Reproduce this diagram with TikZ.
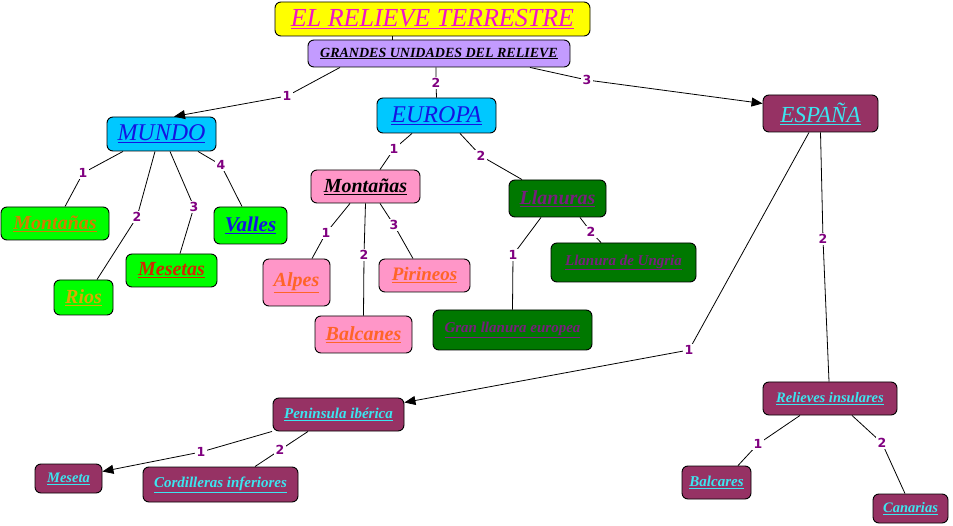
\documentclass[tikz,border=0pt]{standalone}
\usepackage{fontspec}
\setmainfont{Liberation Serif}
\newfontfamily\linkfont{DejaVu Sans}
\usetikzlibrary{arrows.meta}
\definecolor{titleyellow}{RGB}{255,255,0}
\definecolor{titlepink}{RGB}{240,20,200}
\definecolor{lavender}{RGB}{195,155,255}
\definecolor{skycyan}{RGB}{0,200,255}
\definecolor{deepblue}{RGB}{20,20,225}
\definecolor{limegreen}{RGB}{0,255,0}
\definecolor{darkgreen}{RGB}{0,120,0}
\definecolor{maroon}{RGB}{150,50,100}
\definecolor{aqua}{RGB}{60,230,240}
\definecolor{rosepink}{RGB}{255,150,200}
\definecolor{orangetext}{RGB}{255,100,40}
\definecolor{ochre}{RGB}{210,125,0}
\definecolor{goldtext}{RGB}{220,170,0}
\definecolor{redtext}{RGB}{210,40,0}
\definecolor{plumtext}{RGB}{120,30,125}
\definecolor{linkpurple}{RGB}{128,0,128}
\newcommand\csize[1]{\fontsize{#1}{#1}\selectfont\itshape}

\begin{document}
\begin{tikzpicture}[x=1pt,y=-1pt,
  concept/.style={rectangle,rounded corners=6pt,draw=black,line width=0.9pt,
                  inner sep=0pt,align=center},
  link/.style={fill=white,inner sep=1.5pt,text=linkpurple,
               font=\linkfont\bfseries\fontsize{12.5}{13}\selectfont},
  conn/.style={line width=0.8pt},
  arr/.style={conn,-{Triangle[length=11pt,width=9pt]}}]
\useasboundingbox (0,0) rectangle (953,526);

% top
\node[concept,fill=titleyellow,text=titlepink,minimum width=315,minimum height=34,
      font=\csize{26}] (title) at (432.5,19) {\underline{EL RELIEVE TERRESTRE}};
\node[concept,fill=lavender,text=black,minimum width=262,minimum height=27,
      font=\csize{14}\bfseries] (grandes) at (439,53.5) {\underline{GRANDES UNIDADES DEL RELIEVE}};

% second level
\node[concept,fill=skycyan,text=deepblue,minimum width=109,minimum height=34,
      font=\csize{24}] (mundo) at (161.5,134) {\underline{MUNDO}};
\node[concept,fill=skycyan,text=deepblue,minimum width=119,minimum height=35,
      font=\csize{24}] (europa) at (436.5,115.5) {\underline{EUROPA}};
\node[concept,fill=maroon,text=aqua,minimum width=115,minimum height=37,
      font=\csize{23}] (espana) at (820.5,113.5) {\underline{ESPAÑA}};

% mundo
\node[concept,fill=limegreen,text=ochre,minimum width=108,minimum height=33,
      font=\csize{20}\bfseries] (montanasm) at (55,223.5) {\underline{Montañas}};
\node[concept,fill=limegreen,text=goldtext,minimum width=59,minimum height=35,
      font=\csize{20}\bfseries] (rios) at (83.5,297.5) {\underline{Rios}};
\node[concept,fill=limegreen,text=redtext,minimum width=91,minimum height=33,
      font=\csize{20}\bfseries] (mesetas) at (171.5,270.5) {\underline{Mesetas}};
\node[concept,fill=limegreen,text=deepblue,minimum width=73,minimum height=37,
      font=\csize{21}\bfseries] (valles) at (250.5,225.5) {\underline{Valles}};

% europa
\node[concept,fill=rosepink,text=black,minimum width=109,minimum height=33,
      font=\csize{20}\bfseries] (montanase) at (365.5,186.5) {\underline{Montañas}};
\node[concept,fill=darkgreen,text=plumtext,minimum width=97,minimum height=37,
      font=\csize{20}\bfseries] (llanuras) at (557.5,198.5) {\underline{Llanuras}};
\node[concept,fill=rosepink,text=orangetext,minimum width=67,minimum height=47,
      font=\csize{20}\bfseries] (alpes) at (296.5,282.5) {\underline{Alpes}};
\node[concept,fill=rosepink,text=orangetext,minimum width=97,minimum height=37,
      font=\csize{20}\bfseries] (balcanes) at (363.5,334.5) {\underline{Balcanes}};
\node[concept,fill=rosepink,text=orangetext,minimum width=91,minimum height=33,
      font=\csize{19}\bfseries] (pirineos) at (424.5,275.5) {\underline{Pirineos}};
\node[concept,fill=darkgreen,text=plumtext,minimum width=159,minimum height=40,
      font=\csize{15}\bfseries] (granllanura) at (512.5,330) {\underline{Gran llanura europea}};
\node[concept,fill=darkgreen,text=plumtext,minimum width=145,minimum height=39,
      font=\csize{15}\bfseries] (ungria) at (623.5,262.5) {\underline{Llanura de Ungria}};

% espana
\node[concept,fill=maroon,text=aqua,minimum width=131,minimum height=33,
      font=\csize{15}\bfseries] (peninsula) at (338.5,414.5) {\underline{Peninsula ibérica}};
\node[concept,fill=maroon,text=aqua,minimum width=134,minimum height=33,
      font=\csize{14.5}\bfseries] (insulares) at (830,398.5) {\underline{Relieves insulares}};
\node[concept,fill=maroon,text=aqua,minimum width=67,minimum height=29,
      font=\csize{14.5}\bfseries] (meseta) at (68.5,478.5) {\underline{Meseta}};
\node[concept,fill=maroon,text=aqua,minimum width=155,minimum height=35,
      font=\csize{15}\bfseries] (cordilleras) at (220.5,484.5) {\underline{Cordilleras inferiores}};
\node[concept,fill=maroon,text=aqua,minimum width=69,minimum height=33,
      font=\csize{15}\bfseries] (baleares) at (716.5,482.5) {\underline{Balcares}};
\node[concept,fill=maroon,text=aqua,minimum width=75,minimum height=29,
      font=\csize{14.5}\bfseries] (canarias) at (910.5,508.5) {\underline{Canarias}};

% connectors
\draw[conn] ([xshift=-40.5]title.south) -- ([xshift=-47]grandes.north);
\draw[arr] ([xshift=-99]grandes.south) -- (287,96) node[link]{1} -- ([xshift=12.5]mundo.north);
\draw[conn] ([xshift=-3]grandes.south) -- (436,83) node[link]{2} -- (europa.north);
\draw[arr] ([xshift=91]grandes.south) -- (587,80) node[link]{3} -- ([yshift=10]espana.west);

\draw[conn] ([xshift=-38.5]mundo.south) -- (83,173) node[link]{1} -- ([xshift=10]montanasm.north);
\draw[conn] ([xshift=-6.5]mundo.south) -- (137,217) node[link]{2} -- ([xshift=13.5]rios.north);
\draw[conn] ([xshift=8.5]mundo.south) -- (194,207) node[link]{3} -- ([xshift=8.5]mesetas.north);
\draw[conn] ([xshift=36.5]mundo.south) -- (221,165) node[link]{4} -- ([xshift=-8.5]valles.north);

\draw[conn] ([xshift=-24.5]europa.south) -- (394,149) node[link]{1} -- ([xshift=14.5]montanase.north);
\draw[conn] ([xshift=23.5]europa.south) -- (481,156) node[link]{2} -- ([xshift=-35.5]llanuras.north);
\draw[conn] ([xshift=-15.5]montanase.south) -- (326,233) node[link]{1} -- ([xshift=15.5]alpes.north);
\draw[conn] (montanase.south) -- (364,255) node[link]{2} -- (balcanes.north);
\draw[conn] ([xshift=14.5]montanase.south) -- (394,225) node[link]{3} -- ([xshift=-11.5]pirineos.north);
\draw[conn] ([xshift=-16.5]llanuras.south) -- (513,255) node[link]{1} -- (granllanura.north);
\draw[conn] ([xshift=22.5]llanuras.south) -- (591,232) node[link]{2} -- ([xshift=-22.5]ungria.north);

\draw[arr] ([xshift=-11.5]espana.south) -- (689,350) node[link]{1} -- ([yshift=12]peninsula.east);
\draw[conn] (espana.south) -- (823,239) node[link]{2} -- ([xshift=-1]insulares.north);
\draw[arr] ([xshift=-66.5]peninsula.south) -- (201,452) node[link]{1} -- ([yshift=7]meseta.east);
\draw[conn] ([xshift=-30.5]peninsula.south) -- (280,450) node[link]{2} -- ([xshift=34.5]cordilleras.north);
\draw[conn] ([xshift=-30]insulares.south) -- (758,444) node[link]{1} -- ([xshift=21.5]baleares.north);
\draw[conn] ([xshift=22]insulares.south) -- (882,443) node[link]{2} -- ([xshift=-5.5]canarias.north);
\end{tikzpicture}
\end{document}
